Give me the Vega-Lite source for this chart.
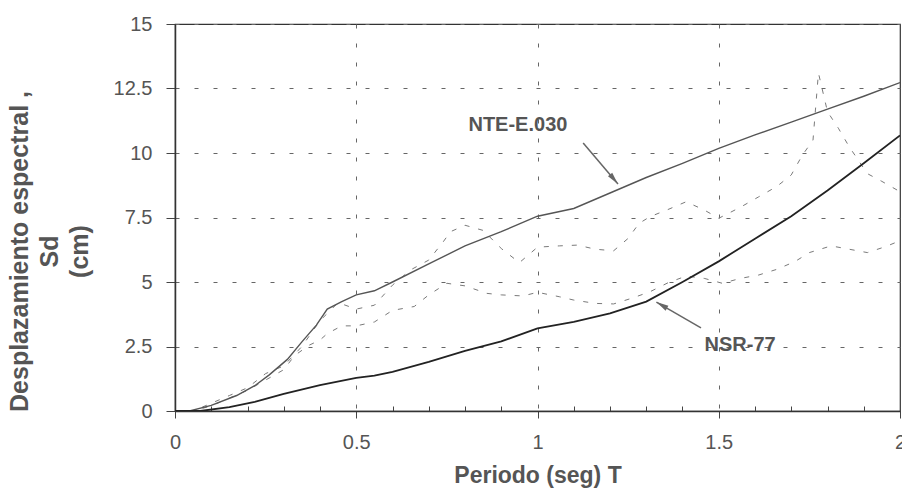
{
  "$schema": "https://vega.github.io/schema/vega-lite/v6.json",
  "width": 725,
  "height": 387,
  "autosize": "none",
  "padding": {"left": 175, "top": 24, "right": 2, "bottom": 77},
  "background": "white",
  "config": {
    "view": {"stroke": "#333", "strokeWidth": 1.2},
    "font": "Liberation Sans"
  },
  "datasets": {
    "curves": [
      {"s": "NTE-E.030", "T": 0, "Sd": 0},
      {"s": "NTE-E.030", "T": 0.04, "Sd": 0},
      {"s": "NTE-E.030", "T": 0.1, "Sd": 0.22},
      {"s": "NTE-E.030", "T": 0.17, "Sd": 0.6},
      {"s": "NTE-E.030", "T": 0.22, "Sd": 0.98},
      {"s": "NTE-E.030", "T": 0.26, "Sd": 1.4},
      {"s": "NTE-E.030", "T": 0.31, "Sd": 2.0},
      {"s": "NTE-E.030", "T": 0.35, "Sd": 2.68},
      {"s": "NTE-E.030", "T": 0.39, "Sd": 3.33},
      {"s": "NTE-E.030", "T": 0.42, "Sd": 3.95},
      {"s": "NTE-E.030", "T": 0.46, "Sd": 4.24},
      {"s": "NTE-E.030", "T": 0.5, "Sd": 4.5},
      {"s": "NTE-E.030", "T": 0.55, "Sd": 4.66},
      {"s": "NTE-E.030", "T": 0.6, "Sd": 5.0},
      {"s": "NTE-E.030", "T": 0.7, "Sd": 5.7},
      {"s": "NTE-E.030", "T": 0.8, "Sd": 6.4},
      {"s": "NTE-E.030", "T": 0.9, "Sd": 6.95},
      {"s": "NTE-E.030", "T": 1.0, "Sd": 7.55},
      {"s": "NTE-E.030", "T": 1.1, "Sd": 7.85},
      {"s": "NTE-E.030", "T": 1.2, "Sd": 8.45},
      {"s": "NTE-E.030", "T": 1.3, "Sd": 9.05},
      {"s": "NTE-E.030", "T": 1.4, "Sd": 9.6},
      {"s": "NTE-E.030", "T": 1.5, "Sd": 10.18},
      {"s": "NTE-E.030", "T": 1.6, "Sd": 10.7},
      {"s": "NTE-E.030", "T": 1.7, "Sd": 11.2},
      {"s": "NTE-E.030", "T": 1.8, "Sd": 11.7},
      {"s": "NTE-E.030", "T": 1.9, "Sd": 12.2},
      {"s": "NTE-E.030", "T": 2.0, "Sd": 12.73},
      {"s": "NSR-77", "T": 0, "Sd": 0},
      {"s": "NSR-77", "T": 0.07, "Sd": 0},
      {"s": "NSR-77", "T": 0.15, "Sd": 0.15},
      {"s": "NSR-77", "T": 0.22, "Sd": 0.35},
      {"s": "NSR-77", "T": 0.3, "Sd": 0.66},
      {"s": "NSR-77", "T": 0.4, "Sd": 1.0},
      {"s": "NSR-77", "T": 0.5, "Sd": 1.28},
      {"s": "NSR-77", "T": 0.55, "Sd": 1.37},
      {"s": "NSR-77", "T": 0.6, "Sd": 1.52},
      {"s": "NSR-77", "T": 0.7, "Sd": 1.9},
      {"s": "NSR-77", "T": 0.8, "Sd": 2.33},
      {"s": "NSR-77", "T": 0.9, "Sd": 2.7},
      {"s": "NSR-77", "T": 1.0, "Sd": 3.2},
      {"s": "NSR-77", "T": 1.1, "Sd": 3.45},
      {"s": "NSR-77", "T": 1.2, "Sd": 3.78},
      {"s": "NSR-77", "T": 1.3, "Sd": 4.24},
      {"s": "NSR-77", "T": 1.4, "Sd": 5.0},
      {"s": "NSR-77", "T": 1.5, "Sd": 5.8},
      {"s": "NSR-77", "T": 1.6, "Sd": 6.68},
      {"s": "NSR-77", "T": 1.7, "Sd": 7.55},
      {"s": "NSR-77", "T": 1.8, "Sd": 8.55},
      {"s": "NSR-77", "T": 1.9, "Sd": 9.6},
      {"s": "NSR-77", "T": 2.0, "Sd": 10.68},
      {"s": "Registro 1", "T": 0, "Sd": 0},
      {"s": "Registro 1", "T": 0.05, "Sd": 0},
      {"s": "Registro 1", "T": 0.1, "Sd": 0.3},
      {"s": "Registro 1", "T": 0.15, "Sd": 0.6},
      {"s": "Registro 1", "T": 0.2, "Sd": 0.9},
      {"s": "Registro 1", "T": 0.25, "Sd": 1.45},
      {"s": "Registro 1", "T": 0.3, "Sd": 1.75},
      {"s": "Registro 1", "T": 0.35, "Sd": 2.5},
      {"s": "Registro 1", "T": 0.4, "Sd": 3.5},
      {"s": "Registro 1", "T": 0.45, "Sd": 4.2},
      {"s": "Registro 1", "T": 0.5, "Sd": 3.95},
      {"s": "Registro 1", "T": 0.55, "Sd": 4.1},
      {"s": "Registro 1", "T": 0.6, "Sd": 4.88},
      {"s": "Registro 1", "T": 0.65, "Sd": 5.47},
      {"s": "Registro 1", "T": 0.7, "Sd": 5.85},
      {"s": "Registro 1", "T": 0.74, "Sd": 6.56},
      {"s": "Registro 1", "T": 0.76, "Sd": 6.95},
      {"s": "Registro 1", "T": 0.8, "Sd": 7.2},
      {"s": "Registro 1", "T": 0.85, "Sd": 7.0},
      {"s": "Registro 1", "T": 0.9, "Sd": 6.3},
      {"s": "Registro 1", "T": 0.95, "Sd": 5.75},
      {"s": "Registro 1", "T": 1.0, "Sd": 6.35},
      {"s": "Registro 1", "T": 1.06, "Sd": 6.4},
      {"s": "Registro 1", "T": 1.11, "Sd": 6.43},
      {"s": "Registro 1", "T": 1.16, "Sd": 6.27},
      {"s": "Registro 1", "T": 1.21, "Sd": 6.21},
      {"s": "Registro 1", "T": 1.25, "Sd": 6.69},
      {"s": "Registro 1", "T": 1.28, "Sd": 7.27},
      {"s": "Registro 1", "T": 1.31, "Sd": 7.53},
      {"s": "Registro 1", "T": 1.36, "Sd": 7.81},
      {"s": "Registro 1", "T": 1.41, "Sd": 8.11},
      {"s": "Registro 1", "T": 1.46, "Sd": 7.79},
      {"s": "Registro 1", "T": 1.5, "Sd": 7.47},
      {"s": "Registro 1", "T": 1.56, "Sd": 7.9},
      {"s": "Registro 1", "T": 1.61, "Sd": 8.3},
      {"s": "Registro 1", "T": 1.66, "Sd": 8.7},
      {"s": "Registro 1", "T": 1.7, "Sd": 9.15},
      {"s": "Registro 1", "T": 1.73, "Sd": 9.9},
      {"s": "Registro 1", "T": 1.76, "Sd": 10.5},
      {"s": "Registro 1", "T": 1.775, "Sd": 13.1},
      {"s": "Registro 1", "T": 1.8, "Sd": 11.6},
      {"s": "Registro 1", "T": 1.83, "Sd": 10.96},
      {"s": "Registro 1", "T": 1.86, "Sd": 10.24},
      {"s": "Registro 1", "T": 1.91, "Sd": 9.2},
      {"s": "Registro 1", "T": 1.95, "Sd": 8.9},
      {"s": "Registro 1", "T": 2.0, "Sd": 8.5},
      {"s": "Registro 2", "T": 0, "Sd": 0},
      {"s": "Registro 2", "T": 0.05, "Sd": 0},
      {"s": "Registro 2", "T": 0.1, "Sd": 0.2},
      {"s": "Registro 2", "T": 0.15, "Sd": 0.5},
      {"s": "Registro 2", "T": 0.2, "Sd": 0.8},
      {"s": "Registro 2", "T": 0.25, "Sd": 1.2},
      {"s": "Registro 2", "T": 0.3, "Sd": 1.6},
      {"s": "Registro 2", "T": 0.33, "Sd": 2.15},
      {"s": "Registro 2", "T": 0.37, "Sd": 2.55},
      {"s": "Registro 2", "T": 0.4, "Sd": 2.75},
      {"s": "Registro 2", "T": 0.42, "Sd": 3.0},
      {"s": "Registro 2", "T": 0.46, "Sd": 3.3},
      {"s": "Registro 2", "T": 0.5, "Sd": 3.3},
      {"s": "Registro 2", "T": 0.55, "Sd": 3.45},
      {"s": "Registro 2", "T": 0.6, "Sd": 3.9},
      {"s": "Registro 2", "T": 0.66, "Sd": 4.05},
      {"s": "Registro 2", "T": 0.7, "Sd": 4.5},
      {"s": "Registro 2", "T": 0.75, "Sd": 4.95},
      {"s": "Registro 2", "T": 0.8, "Sd": 4.85},
      {"s": "Registro 2", "T": 0.86, "Sd": 4.56},
      {"s": "Registro 2", "T": 0.9, "Sd": 4.5},
      {"s": "Registro 2", "T": 0.96, "Sd": 4.46},
      {"s": "Registro 2", "T": 1.0, "Sd": 4.6},
      {"s": "Registro 2", "T": 1.06, "Sd": 4.43},
      {"s": "Registro 2", "T": 1.1, "Sd": 4.3},
      {"s": "Registro 2", "T": 1.16, "Sd": 4.17},
      {"s": "Registro 2", "T": 1.21, "Sd": 4.15},
      {"s": "Registro 2", "T": 1.26, "Sd": 4.37},
      {"s": "Registro 2", "T": 1.31, "Sd": 4.62},
      {"s": "Registro 2", "T": 1.36, "Sd": 4.97},
      {"s": "Registro 2", "T": 1.41, "Sd": 5.23},
      {"s": "Registro 2", "T": 1.46, "Sd": 5.14},
      {"s": "Registro 2", "T": 1.51, "Sd": 4.95},
      {"s": "Registro 2", "T": 1.56, "Sd": 5.14},
      {"s": "Registro 2", "T": 1.61, "Sd": 5.27},
      {"s": "Registro 2", "T": 1.66, "Sd": 5.49},
      {"s": "Registro 2", "T": 1.71, "Sd": 5.79},
      {"s": "Registro 2", "T": 1.75, "Sd": 6.14},
      {"s": "Registro 2", "T": 1.81, "Sd": 6.4},
      {"s": "Registro 2", "T": 1.86, "Sd": 6.27},
      {"s": "Registro 2", "T": 1.91, "Sd": 6.14},
      {"s": "Registro 2", "T": 1.96, "Sd": 6.37},
      {"s": "Registro 2", "T": 2.0, "Sd": 6.6}
    ],
    "notes": [
      {"label": "NTE-E.030", "tx": 0.946, "ty": 11.08, "x1": 1.126, "y1": 10.39, "x2": 1.222, "y2": 8.8},
      {"label": "NSR-77", "tx": 1.559, "ty": 2.56, "x1": 1.451, "y1": 3.22, "x2": 1.328, "y2": 4.22}
    ]
  },
  "layer": [
    {
      "data": {"name": "curves"},
      "transform": [{"filter": "datum.s === 'Registro 1' || datum.s === 'Registro 2'"}],
      "mark": {"type": "line", "color": "#7a7a7a", "strokeWidth": 1, "strokeDash": [5, 9], "clip": true},
      "encoding": {
        "x": {
          "field": "T", "type": "quantitative",
          "scale": {"domain": [0, 2], "nice": false},
          "axis": {
            "values": [0, 0.1, 0.2, 0.3, 0.4, 0.5, 0.6, 0.7, 0.8, 0.9, 1, 1.1, 1.2, 1.3, 1.4, 1.5, 1.6, 1.7, 1.8, 1.9, 2],
            "tickCount": 40,
            "labelExpr": "(datum.value == 0 || datum.value == 0.5 || datum.value == 1 || datum.value == 1.5 || datum.value == 2) ? '' + datum.value : ''",
            "title": "Periodo (seg) T",
            "titleFont": "Liberation Sans",
            "titleFontSize": 23,
            "titleFontWeight": "bold",
            "titleColor": "#555",
            "titlePadding": 12,
            "labelFont": "Liberation Sans",
            "labelFontSize": 20,
            "labelColor": "#555",
            "labelPadding": 14,
            "labelFlush": false,
            "labelOverlap": false,
            "domainColor": "#333",
            "domainWidth": 1.5,
            "tickColor": "#444",
            "tickWidth": 1,
            "tickSize": {"condition": {"test": "datum.value == 0 || datum.value == 0.5 || datum.value == 1 || datum.value == 1.5 || datum.value == 2", "value": 7}, "value": -5},
            "grid": true,
            "gridColor": "#666",
            "gridDash": [4, 15],
            "gridWidth": 1,
            "gridOpacity": {"condition": {"test": "datum.value == 0.5 || datum.value == 1 || datum.value == 1.5", "value": 1}, "value": 0}
          }
        },
        "y": {
          "field": "Sd", "type": "quantitative",
          "scale": {"domain": [0, 15], "nice": false},
          "axis": {
            "values": [0, 2.5, 5, 7.5, 10, 12.5, 15],
            "tickCount": 20,
            "labelExpr": "'' + datum.value",
            "title": ["Desplazamiento espectral ,", "Sd", "(cm)"],
            "titleFont": "Liberation Sans",
            "titleFontSize": 25,
            "titleFontWeight": "bold",
            "titleColor": "#555",
            "titleLineHeight": 30,
            "titlePadding": 21,
            "titleY": 227,
            "labelFont": "Liberation Sans",
            "labelFontSize": 20,
            "labelColor": "#555",
            "labelPadding": 14,
            "labelFlush": false,
            "domainColor": "#333",
            "domainWidth": 1.5,
            "tickColor": "#444",
            "tickSize": 9,
            "grid": true,
            "gridColor": "#666",
            "gridDash": [4, 15],
            "gridWidth": 1
          }
        },
        "detail": {"field": "s"}
      }
    },
    {
      "data": {"name": "curves"},
      "transform": [{"filter": "datum.s === 'NTE-E.030'"}],
      "mark": {"type": "line", "color": "#555", "strokeWidth": 1.4, "clip": true},
      "encoding": {
        "x": {"field": "T", "type": "quantitative"},
        "y": {"field": "Sd", "type": "quantitative"}
      }
    },
    {
      "data": {"name": "curves"},
      "transform": [{"filter": "datum.s === 'NSR-77'"}],
      "mark": {"type": "line", "color": "#222", "strokeWidth": 1.8, "clip": true},
      "encoding": {
        "x": {"field": "T", "type": "quantitative"},
        "y": {"field": "Sd", "type": "quantitative"}
      }
    },
    {
      "data": {"name": "notes"},
      "mark": {"type": "rule", "color": "#666", "strokeWidth": 1.5},
      "encoding": {
        "x": {"field": "x1", "type": "quantitative"},
        "y": {"field": "y1", "type": "quantitative"},
        "x2": {"field": "x2"},
        "y2": {"field": "y2"}
      }
    },
    {
      "data": {"name": "notes"},
      "transform": [{"filter": "datum.label === 'NTE-E.030'"}],
      "mark": {"type": "point", "shape": "M0,0L0.45,2L-0.45,2Z", "size": 150, "filled": true, "color": "#666", "opacity": 1, "angle": 140},
      "encoding": {
        "x": {"field": "x2", "type": "quantitative"},
        "y": {"field": "y2", "type": "quantitative"}
      }
    },
    {
      "data": {"name": "notes"},
      "transform": [{"filter": "datum.label === 'NSR-77'"}],
      "mark": {"type": "point", "shape": "M0,0L0.45,2L-0.45,2Z", "size": 150, "filled": true, "color": "#666", "opacity": 1, "angle": 300},
      "encoding": {
        "x": {"field": "x2", "type": "quantitative"},
        "y": {"field": "y2", "type": "quantitative"}
      }
    },
    {
      "data": {"name": "notes"},
      "mark": {"type": "text", "font": "Liberation Sans", "fontSize": 20, "fontWeight": "bold", "color": "#555", "align": "center", "baseline": "middle"},
      "encoding": {
        "x": {"field": "tx", "type": "quantitative"},
        "y": {"field": "ty", "type": "quantitative"},
        "text": {"field": "label"}
      }
    }
  ]
}
